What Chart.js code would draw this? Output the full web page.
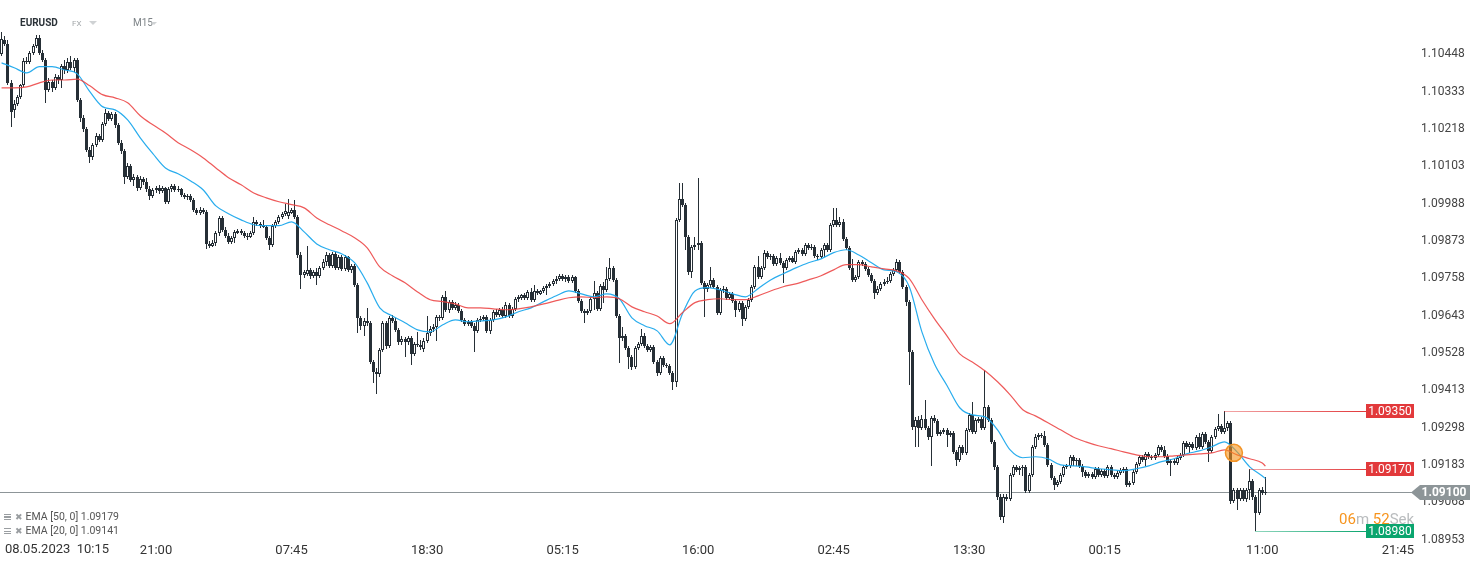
<!DOCTYPE html>
<html>
<head>
<meta charset="utf-8">
<title>EURUSD M15</title>
<script src="https://cdn.jsdelivr.net/npm/chart.js@4.4.0/dist/chart.umd.min.js"></script>
<style>
  html, body { margin: 0; padding: 0; background: #fff; }
  #wrap { position: relative; width: 1482px; height: 564px; font-family: Roboto, "Open Sans", sans-serif; overflow: hidden; }
  #chart { position: absolute; left: 0; top: 0; }
  .txt { position: absolute; white-space: nowrap; }
  .tri { position: absolute; width: 0; height: 0; border-left: 4px solid transparent; border-right: 4px solid transparent; border-top: 4px solid #cfd2d4; }
  .leg { position: absolute; left: 4px; font-size: 10.5px; line-height: 12px; color: #555; white-space: nowrap; }
  .leg i { display: inline-block; width: 7px; height: 6px; margin-right: 4px; vertical-align: 0px;
           background: repeating-linear-gradient(#9a9ea1 0 1px, transparent 1px 2.5px); }
  .leg b { font-weight: normal; color: #9a9ea1; font-family: "DejaVu Sans", sans-serif; font-size: 9px; margin-right: 3px; }
</style>
</head>
<body>
<div id="wrap">
  <canvas id="chart" width="1482" height="564"></canvas>
  <div class="txt" style="left:20px;top:17px;font-size:10px;line-height:12px;font-weight:bold;color:#2b3238">EURUSD</div>
  <div class="txt" style="left:72px;top:19px;font-size:8px;line-height:10px;color:#a3a7aa">FX</div>
  <div class="tri" style="left:89px;top:21px"></div>
  <div class="txt" style="left:133px;top:17px;font-size:10px;line-height:12px;color:#7d8387">M15</div>
  <div class="tri" style="left:151px;top:22px;border-left-width:3.5px;border-right-width:3.5px;border-top-width:3px"></div>
  <div class="leg" style="top:511px"><i></i><b>✖</b>EMA [50, 0] 1.09179</div>
  <div class="leg" style="top:525px"><i></i><b>✖</b>EMA [20, 0] 1.09141</div>
  <div class="txt" style="left:5px;top:541px;font-size:13px;line-height:16px;color:#333">08.05.2023&nbsp;&nbsp;10:15</div>
  <div class="txt" style="left:1339px;top:510px;font-size:15px;line-height:18px;color:#b9bcbe"><span style="color:#f7941d">06</span>m <span style="color:#f7941d">52</span>Sek</div>
</div>
<script>
// EURUSD M15 candles
const opens = [
1.10450,1.10493,1.10481,1.10360,1.10277,1.10296,1.10317,1.10354,1.10428,1.10425,
1.10453,1.10475,1.10499,1.10453,1.10431,1.10339,1.10363,1.10345,1.10379,1.10369,
1.10413,1.10400,1.10425,1.10407,1.10431,1.10308,1.10252,1.10218,1.10154,1.10132,
1.10170,1.10197,1.10185,1.10234,1.10268,1.10249,1.10265,1.10231,1.10176,1.10151,
1.10071,1.10105,1.10061,1.10071,1.10037,1.10064,1.10055,1.10034,1.10012,1.10030,
1.10037,1.10027,1.10037,1.09994,1.10034,1.10043,1.10030,1.10034,1.10015,1.10009,
1.10012,1.10000,1.09969,1.09960,1.09969,1.09963,1.09864,1.09858,1.09867,1.09898,
1.09944,1.09907,1.09889,1.09870,1.09883,1.09898,1.09904,1.09898,1.09889,1.09886,
1.09898,1.09932,1.09926,1.09923,1.09917,1.09883,1.09861,1.09920,1.09932,1.09948,
1.09957,1.09951,1.09960,1.09969,1.09948,1.09830,1.09769,1.09772,1.09784,1.09766,
1.09778,1.09766,1.09790,1.09809,1.09830,1.09797,1.09833,1.09790,1.09824,1.09787,
1.09824,1.09784,1.09797,1.09738,1.09636,1.09612,1.09627,1.09621,1.09500,1.09470,
1.09463,1.09537,1.09621,1.09550,1.09636,1.09627,1.09599,1.09562,1.09571,1.09562,
1.09574,1.09525,1.09556,1.09553,1.09540,1.09565,1.09590,1.09602,1.09608,1.09639,
1.09636,1.09701,1.09661,1.09686,1.09667,1.09676,1.09658,1.09630,1.09618,1.09624,
1.09612,1.09596,1.09630,1.09633,1.09639,1.09596,1.09630,1.09655,1.09645,1.09661,
1.09642,1.09676,1.09642,1.09664,1.09695,1.09698,1.09707,1.09698,1.09716,1.09692,
1.09719,1.09710,1.09719,1.09729,1.09735,1.09741,1.09750,1.09757,1.09766,1.09757,
1.09763,1.09750,1.09763,1.09719,1.09689,1.09658,1.09652,1.09658,1.09695,1.09713,
1.09664,1.09735,1.09722,1.09757,1.09790,1.09753,1.09642,1.09574,1.09580,1.09543,
1.09516,1.09485,1.09543,1.09556,1.09580,1.09550,1.09537,1.09546,1.09500,1.09466,
1.09513,1.09491,1.09488,1.09466,1.09439,1.09938,1.10003,1.09985,1.09886,1.09778,
1.09855,1.09861,1.09867,1.09744,1.09726,1.09738,1.09753,1.09732,1.09652,1.09722,
1.09726,1.09698,1.09710,1.09689,1.09661,1.09683,1.09633,1.09670,1.09692,1.09732,
1.09793,1.09763,1.09790,1.09837,1.09824,1.09827,1.09803,1.09821,1.09806,1.09790,
1.09815,1.09821,1.09809,1.09840,1.09846,1.09833,1.09861,1.09852,1.09855,1.09827,
1.09824,1.09846,1.09861,1.09846,1.09923,1.09938,1.09923,1.09932,1.09880,1.09852,
1.09790,1.09753,1.09763,1.09809,1.09803,1.09787,1.09769,1.09750,1.09713,1.09726,
1.09741,1.09747,1.09750,1.09772,1.09784,1.09809,1.09778,1.09732,1.09686,1.09531,
1.09300,1.09322,1.09297,1.09325,1.09297,1.09269,1.09328,1.09319,1.09279,1.09285,
1.09291,1.09276,1.09282,1.09223,1.09199,1.09239,1.09220,1.09291,1.09337,1.09285,
1.09319,1.09325,1.09297,1.09362,1.09322,1.09254,1.09177,1.09084,1.09023,1.09084,
1.09078,1.09152,1.09177,1.09168,1.09174,1.09177,1.09103,1.09152,1.09239,1.09269,
1.09276,1.09272,1.09245,1.09183,1.09143,1.09121,1.09131,1.09152,1.09177,1.09180,
1.09208,1.09196,1.09199,1.09180,1.09162,1.09149,1.09155,1.09146,1.09171,1.09152,
1.09165,1.09149,1.09177,1.09152,1.09146,1.09158,1.09168,1.09171,1.09121,1.09128,
1.09162,1.09186,1.09208,1.09199,1.09217,1.09208,1.09205,1.09214,1.09239,1.09229,
1.09211,1.09189,1.09196,1.09189,1.09205,1.09214,1.09251,1.09239,1.09248,1.09236,
1.09269,1.09239,1.09279,1.09254,1.09226,1.09269,1.09294,1.09303,1.09285,1.09297,
1.09313,1.09072,1.09106,1.09078,1.09106,1.09078,1.09106,1.09134,1.09084,1.09035,
1.09106,1.09097];
const highs = [
1.10518,1.10505,1.10493,1.10369,1.10308,1.10324,1.10357,1.10437,1.10440,1.10459,
1.10481,1.10508,1.10508,1.10462,1.10437,1.10375,1.10369,1.10388,1.10385,1.10419,
1.10431,1.10437,1.10444,1.10437,1.10437,1.10314,1.10262,1.10224,1.10163,1.10176,
1.10206,1.10203,1.10240,1.10280,1.10274,1.10271,1.10271,1.10237,1.10185,1.10157,
1.10114,1.10111,1.10080,1.10077,1.10074,1.10071,1.10068,1.10043,1.10037,1.10043,
1.10046,1.10043,1.10040,1.10040,1.10049,1.10049,1.10043,1.10037,1.10021,1.10018,
1.10018,1.10006,1.09975,1.09978,1.09975,1.09969,1.09873,1.09876,1.09904,1.09951,
1.09951,1.09917,1.09898,1.09889,1.09907,1.09910,1.09910,1.09904,1.09898,1.09904,
1.09948,1.09938,1.09932,1.09938,1.09923,1.09889,1.09926,1.09938,1.09954,1.09963,
1.09988,1.10003,1.09975,1.10000,1.09954,1.09840,1.09784,1.09858,1.09790,1.09784,
1.09790,1.09797,1.09818,1.09840,1.09837,1.09840,1.09840,1.09830,1.09830,1.09830,
1.09827,1.09803,1.09803,1.09744,1.09642,1.09636,1.09667,1.09627,1.09506,1.09482,
1.09543,1.09627,1.09627,1.09642,1.09645,1.09636,1.09605,1.09580,1.09577,1.09580,
1.09580,1.09562,1.09593,1.09568,1.09574,1.09642,1.09612,1.09618,1.09645,1.09645,
1.09707,1.09719,1.09692,1.09692,1.09686,1.09683,1.09664,1.09636,1.09630,1.09630,
1.09621,1.09636,1.09642,1.09645,1.09645,1.09636,1.09661,1.09664,1.09667,1.09670,
1.09686,1.09683,1.09670,1.09701,1.09707,1.09710,1.09713,1.09722,1.09729,1.09738,
1.09726,1.09722,1.09735,1.09741,1.09747,1.09757,1.09766,1.09772,1.09772,1.09769,
1.09769,1.09769,1.09766,1.09726,1.09695,1.09664,1.09664,1.09701,1.09750,1.09719,
1.09741,1.09747,1.09793,1.09821,1.09797,1.09760,1.09648,1.09608,1.09587,1.09550,
1.09522,1.09550,1.09562,1.09602,1.09590,1.09556,1.09553,1.09553,1.09506,1.09519,
1.09519,1.09497,1.09494,1.09473,1.09944,1.10052,1.10052,1.09991,1.09892,1.09861,
1.09886,1.10068,1.09873,1.09750,1.09744,1.09793,1.09760,1.09738,1.09729,1.09735,
1.09732,1.09716,1.09716,1.09695,1.09689,1.09689,1.09676,1.09698,1.09738,1.09800,
1.09827,1.09797,1.09846,1.09843,1.09833,1.09833,1.09827,1.09837,1.09812,1.09821,
1.09827,1.09827,1.09846,1.09852,1.09852,1.09867,1.09867,1.09864,1.09861,1.09833,
1.09852,1.09867,1.09867,1.09929,1.09975,1.09975,1.09948,1.09941,1.09886,1.09858,
1.09818,1.09769,1.09815,1.09815,1.09809,1.09793,1.09775,1.09757,1.09735,1.09747,
1.09757,1.09763,1.09778,1.09790,1.09818,1.09815,1.09784,1.09738,1.09692,1.09537,
1.09331,1.09334,1.09337,1.09384,1.09303,1.09334,1.09337,1.09325,1.09291,1.09297,
1.09297,1.09288,1.09288,1.09229,1.09245,1.09245,1.09297,1.09344,1.09378,1.09328,
1.09331,1.09331,1.09476,1.09368,1.09328,1.09260,1.09183,1.09094,1.09094,1.09094,
1.09158,1.09183,1.09183,1.09180,1.09183,1.09183,1.09158,1.09245,1.09279,1.09282,
1.09282,1.09288,1.09251,1.09189,1.09149,1.09137,1.09158,1.09183,1.09186,1.09214,
1.09214,1.09205,1.09205,1.09186,1.09168,1.09162,1.09162,1.09177,1.09177,1.09171,
1.09171,1.09183,1.09183,1.09158,1.09165,1.09174,1.09177,1.09177,1.09134,1.09168,
1.09193,1.09214,1.09214,1.09223,1.09223,1.09214,1.09220,1.09245,1.09245,1.09242,
1.09217,1.09202,1.09202,1.09211,1.09220,1.09257,1.09257,1.09254,1.09254,1.09276,
1.09282,1.09285,1.09285,1.09260,1.09276,1.09300,1.09340,1.09309,1.09350,1.09319,
1.09319,1.09112,1.09112,1.09112,1.09112,1.09112,1.09170,1.09140,1.09090,1.09112,
1.09115,1.09146];
const lows = [
1.10444,1.10475,1.10354,1.10224,1.10252,1.10290,1.10311,1.10347,1.10419,1.10419,
1.10447,1.10468,1.10447,1.10425,1.10299,1.10333,1.10333,1.10339,1.10357,1.10345,
1.10388,1.10391,1.10400,1.10394,1.10302,1.10240,1.10209,1.10148,1.10114,1.10123,
1.10163,1.10179,1.10179,1.10228,1.10243,1.10243,1.10221,1.10170,1.10142,1.10049,
1.10064,1.10055,1.10043,1.10027,1.10030,1.10046,1.10024,1.10000,1.10006,1.10021,
1.10018,1.10021,1.09988,1.09988,1.10024,1.10024,1.10024,1.10009,1.10003,1.10000,
1.09994,1.09963,1.09954,1.09954,1.09957,1.09849,1.09852,1.09855,1.09858,1.09889,
1.09901,1.09883,1.09864,1.09864,1.09867,1.09895,1.09892,1.09883,1.09876,1.09883,
1.09892,1.09920,1.09914,1.09914,1.09876,1.09846,1.09855,1.09914,1.09926,1.09941,
1.09951,1.09941,1.09957,1.09941,1.09821,1.09726,1.09760,1.09766,1.09757,1.09760,
1.09738,1.09760,1.09784,1.09797,1.09790,1.09790,1.09784,1.09784,1.09781,1.09781,
1.09778,1.09775,1.09732,1.09590,1.09599,1.09580,1.09612,1.09494,1.09436,1.09402,
1.09454,1.09531,1.09540,1.09543,1.09621,1.09593,1.09553,1.09553,1.09516,1.09553,
1.09491,1.09519,1.09546,1.09537,1.09531,1.09559,1.09580,1.09593,1.09565,1.09627,
1.09630,1.09655,1.09652,1.09661,1.09661,1.09652,1.09624,1.09612,1.09612,1.09605,
1.09531,1.09590,1.09624,1.09627,1.09590,1.09587,1.09624,1.09639,1.09639,1.09636,
1.09636,1.09636,1.09636,1.09658,1.09686,1.09692,1.09692,1.09692,1.09686,1.09686,
1.09707,1.09707,1.09713,1.09707,1.09729,1.09735,1.09741,1.09750,1.09750,1.09747,
1.09744,1.09744,1.09713,1.09683,1.09652,1.09621,1.09645,1.09652,1.09661,1.09658,
1.09658,1.09683,1.09716,1.09750,1.09747,1.09636,1.09497,1.09565,1.09537,1.09479,
1.09476,1.09479,1.09537,1.09550,1.09543,1.09531,1.09531,1.09494,1.09457,1.09460,
1.09485,1.09482,1.09460,1.09414,1.09424,1.09932,1.09978,1.09846,1.09769,1.09760,
1.09846,1.09846,1.09738,1.09639,1.09716,1.09729,1.09726,1.09645,1.09645,1.09713,
1.09692,1.09692,1.09683,1.09639,1.09655,1.09612,1.09627,1.09664,1.09686,1.09726,
1.09757,1.09757,1.09784,1.09818,1.09815,1.09797,1.09797,1.09800,1.09744,1.09784,
1.09809,1.09806,1.09803,1.09833,1.09827,1.09827,1.09846,1.09846,1.09821,1.09815,
1.09818,1.09824,1.09840,1.09840,1.09917,1.09917,1.09917,1.09873,1.09846,1.09784,
1.09747,1.09747,1.09757,1.09797,1.09781,1.09763,1.09744,1.09695,1.09707,1.09719,
1.09735,1.09741,1.09744,1.09766,1.09778,1.09772,1.09726,1.09673,1.09430,1.09291,
1.09239,1.09239,1.09291,1.09291,1.09260,1.09180,1.09313,1.09272,1.09272,1.09279,
1.09239,1.09269,1.09217,1.09180,1.09193,1.09214,1.09214,1.09285,1.09279,1.09279,
1.09313,1.09291,1.09291,1.09316,1.09248,1.09168,1.09075,1.09014,1.09005,1.09072,
1.09072,1.09146,1.09162,1.09152,1.09149,1.09097,1.09097,1.09146,1.09233,1.09260,
1.09266,1.09239,1.09177,1.09137,1.09106,1.09115,1.09125,1.09146,1.09171,1.09174,
1.09180,1.09180,1.09174,1.09146,1.09143,1.09143,1.09140,1.09140,1.09146,1.09146,
1.09143,1.09143,1.09146,1.09140,1.09140,1.09152,1.09158,1.09115,1.09115,1.09121,
1.09155,1.09180,1.09193,1.09180,1.09202,1.09199,1.09199,1.09208,1.09223,1.09205,
1.09183,1.09149,1.09183,1.09183,1.09199,1.09208,1.09233,1.09220,1.09229,1.09229,
1.09233,1.09233,1.09248,1.09193,1.09220,1.09263,1.09288,1.09279,1.09279,1.09288,
1.09063,1.09066,1.09045,1.09072,1.09072,1.09069,1.09075,1.09075,1.08980,1.09029,
1.09090,1.09090];
const closes = [
1.10496,1.10481,1.10360,1.10271,1.10296,1.10317,1.10354,1.10428,1.10425,1.10453,
1.10475,1.10499,1.10453,1.10431,1.10339,1.10363,1.10345,1.10379,1.10369,1.10413,
1.10400,1.10425,1.10407,1.10431,1.10308,1.10252,1.10218,1.10154,1.10132,1.10170,
1.10197,1.10185,1.10234,1.10268,1.10249,1.10265,1.10231,1.10176,1.10151,1.10071,
1.10105,1.10061,1.10071,1.10037,1.10064,1.10055,1.10034,1.10012,1.10030,1.10037,
1.10027,1.10037,1.09994,1.10034,1.10043,1.10030,1.10034,1.10015,1.10009,1.10012,
1.10000,1.09969,1.09960,1.09969,1.09963,1.09864,1.09858,1.09867,1.09898,1.09944,
1.09907,1.09889,1.09870,1.09883,1.09901,1.09904,1.09898,1.09889,1.09886,1.09898,
1.09932,1.09926,1.09920,1.09917,1.09883,1.09861,1.09920,1.09932,1.09948,1.09957,
1.09966,1.09963,1.09969,1.09948,1.09830,1.09769,1.09778,1.09784,1.09766,1.09778,
1.09766,1.09790,1.09809,1.09830,1.09797,1.09833,1.09790,1.09824,1.09787,1.09824,
1.09784,1.09797,1.09738,1.09636,1.09612,1.09627,1.09621,1.09500,1.09470,1.09463,
1.09537,1.09621,1.09550,1.09636,1.09627,1.09599,1.09562,1.09571,1.09562,1.09574,
1.09525,1.09556,1.09553,1.09546,1.09565,1.09590,1.09602,1.09608,1.09639,1.09636,
1.09701,1.09661,1.09686,1.09667,1.09676,1.09658,1.09630,1.09618,1.09624,1.09612,
1.09596,1.09630,1.09633,1.09639,1.09596,1.09630,1.09655,1.09645,1.09661,1.09642,
1.09676,1.09642,1.09664,1.09695,1.09701,1.09707,1.09698,1.09716,1.09692,1.09719,
1.09713,1.09719,1.09729,1.09735,1.09741,1.09750,1.09757,1.09766,1.09757,1.09763,
1.09750,1.09763,1.09719,1.09689,1.09658,1.09652,1.09658,1.09695,1.09713,1.09664,
1.09735,1.09722,1.09757,1.09790,1.09753,1.09642,1.09574,1.09580,1.09543,1.09516,
1.09485,1.09543,1.09556,1.09580,1.09550,1.09537,1.09546,1.09500,1.09466,1.09513,
1.09491,1.09488,1.09466,1.09439,1.09938,1.10003,1.09985,1.09886,1.09778,1.09855,
1.09861,1.09867,1.09744,1.09726,1.09738,1.09753,1.09732,1.09652,1.09722,1.09726,
1.09698,1.09710,1.09689,1.09661,1.09683,1.09633,1.09670,1.09692,1.09732,1.09793,
1.09763,1.09790,1.09837,1.09824,1.09827,1.09803,1.09821,1.09806,1.09790,1.09815,
1.09821,1.09809,1.09840,1.09846,1.09833,1.09861,1.09852,1.09855,1.09827,1.09824,
1.09846,1.09861,1.09846,1.09923,1.09938,1.09923,1.09932,1.09880,1.09852,1.09790,
1.09753,1.09763,1.09809,1.09803,1.09787,1.09769,1.09750,1.09713,1.09726,1.09741,
1.09747,1.09750,1.09772,1.09784,1.09809,1.09778,1.09732,1.09686,1.09531,1.09300,
1.09322,1.09297,1.09325,1.09297,1.09269,1.09328,1.09319,1.09279,1.09285,1.09291,
1.09276,1.09282,1.09223,1.09199,1.09239,1.09220,1.09291,1.09337,1.09285,1.09322,
1.09325,1.09297,1.09362,1.09322,1.09254,1.09177,1.09084,1.09023,1.09084,1.09078,
1.09152,1.09177,1.09168,1.09174,1.09177,1.09103,1.09152,1.09239,1.09269,1.09276,
1.09272,1.09245,1.09183,1.09143,1.09121,1.09131,1.09152,1.09177,1.09180,1.09208,
1.09196,1.09199,1.09180,1.09162,1.09149,1.09155,1.09146,1.09171,1.09152,1.09165,
1.09149,1.09177,1.09152,1.09146,1.09158,1.09168,1.09171,1.09121,1.09128,1.09162,
1.09186,1.09208,1.09199,1.09217,1.09208,1.09205,1.09214,1.09239,1.09229,1.09211,
1.09189,1.09196,1.09189,1.09205,1.09214,1.09251,1.09239,1.09248,1.09236,1.09269,
1.09239,1.09279,1.09254,1.09226,1.09269,1.09294,1.09303,1.09285,1.09297,1.09313,
1.09072,1.09106,1.09078,1.09106,1.09078,1.09106,1.09134,1.09084,1.09035,1.09106,
1.09097,1.09100];

// EMA values read every 4th candle (plus the last one)
const ema20 = [
1.10422,1.10407,1.10391,1.10410,1.10410,1.10400,1.10388,1.10333,1.10287,1.10277,
1.10246,1.10191,1.10142,1.10098,1.10080,1.10058,1.10030,1.09981,1.09957,1.09938,
1.09923,1.09920,1.09920,1.09932,1.09901,1.09864,1.09846,1.09833,1.09806,1.09744,
1.09667,1.09642,1.09621,1.09599,1.09593,1.09615,1.09630,1.09624,1.09627,1.09630,
1.09639,1.09655,1.09667,1.09686,1.09704,1.09719,1.09710,1.09701,1.09710,1.09695,
1.09636,1.09612,1.09596,1.09553,1.09648,1.09719,1.09729,1.09722,1.09710,1.09701,
1.09726,1.09753,1.09772,1.09790,1.09806,1.09818,1.09837,1.09846,1.09830,1.09806,
1.09784,1.09778,1.09732,1.09593,1.09494,1.09427,1.09359,1.09337,1.09331,1.09291,
1.09229,1.09205,1.09208,1.09202,1.09183,1.09180,1.09177,1.09171,1.09168,1.09165,
1.09171,1.09180,1.09193,1.09202,1.09217,1.09226,1.09239,1.09254,1.09223,1.09177,
1.09149,1.09141];
const ema50 = [
1.10345,1.10345,1.10348,1.10360,1.10369,1.10369,1.10372,1.10351,1.10324,1.10314,
1.10299,1.10259,1.10231,1.10206,1.10176,1.10154,1.10129,1.10098,1.10068,1.10046,
1.10021,1.10006,1.09994,1.09985,1.09975,1.09944,1.09923,1.09904,1.09883,1.09852,
1.09793,1.09766,1.09744,1.09716,1.09692,1.09686,1.09679,1.09667,1.09667,1.09664,
1.09661,1.09664,1.09670,1.09679,1.09689,1.09698,1.09701,1.09698,1.09701,1.09695,
1.09670,1.09655,1.09642,1.09618,1.09652,1.09683,1.09692,1.09695,1.09692,1.09692,
1.09704,1.09719,1.09732,1.09741,1.09753,1.09766,1.09784,1.09800,1.09800,1.09793,
1.09787,1.09781,1.09757,1.09692,1.09633,1.09580,1.09525,1.09500,1.09473,1.09439,
1.09399,1.09353,1.09334,1.09313,1.09291,1.09269,1.09254,1.09242,1.09233,1.09223,
1.09214,1.09208,1.09208,1.09211,1.09214,1.09217,1.09220,1.09229,1.09214,1.09202,
1.09189,1.09179];

const yTicks = [1.10448, 1.10333, 1.10218, 1.10103, 1.09988, 1.09873, 1.09758,
                1.09643, 1.09528, 1.09413, 1.09298, 1.09183, 1.09068, 1.08953];
const tickAt = [49, 92, 135, 178, 221, 264, 307, 350, 400, 443];
const tickTimes = ['21:00', '07:45', '18:30', '05:15', '16:00', '02:45', '13:30', '00:15', '11:00', '21:45'];
const levelPrices = [1.09350, 1.09170, 1.08980];
const levelFrom = [388, 396, 398];
const marker = [391, 1.09220];

const slotCount = 448;          // candles + empty room on the right
const yMin = 1.089515, yMax = 1.106156;
const DARK = '#262f36';
const levelColors = ['226,57,59', '226,57,59', '10,165,110'];

const slots = Array.from({ length: slotCount }, (_, i) => i);
const wicks = highs.map((h, i) => [lows[i], h]);
const bodies = opens.map((o, i) => [o, closes[i]]);
const bodyFill = opens.map((o, i) => closes[i] >= o ? '#ffffff' : DARK);
const emaAt = ema20.map((_, k) => Math.min(k * 4, opens.length - 1));

Chart.defaults.font.family = 'Roboto';

// snap candle bars to whole pixels so they stay crisp
const snap = {
  id: 'snap',
  afterDatasetsUpdate(chart) {
    chart.data.datasets.forEach((ds, di) => {
      if (ds.type === 'line') return;
      chart.getDatasetMeta(di).data.forEach(el => {
        el.x = Math.floor(el.x) + 0.5;
        el.y = Math.round(el.y);
        el.base = Math.round(el.base);
        if (Math.abs(el.base - el.y) < 1) el.base = el.y + 1;
      });
    });
  }
};

const overlay = {
  id: 'overlay',
  beforeDatasetsDraw(chart) {
    const { ctx, chartArea, scales: { y } } = chart;
    const py = Math.round(y.getPixelForValue(closes[closes.length - 1])) + 0.5;
    ctx.save();
    ctx.strokeStyle = '#8d9598';
    ctx.lineWidth = 1;
    ctx.beginPath();
    ctx.moveTo(0, py);
    ctx.lineTo(chartArea.right, py);
    ctx.stroke();
    ctx.restore();
  },
  afterDraw(chart) {
    const { ctx, chartArea, scales: { x, y } } = chart;
    const boxL = chartArea.right - 46;
    ctx.save();
    ctx.font = '12px Roboto';
    ctx.textAlign = 'center';
    ctx.textBaseline = 'middle';
    levelPrices.forEach((p, k) => {
      const py = Math.round(y.getPixelForValue(p)) + 0.5;
      const x0 = Math.floor(x.getPixelForValue(levelFrom[k]));
      const grad = ctx.createLinearGradient(x0, 0, boxL, 0);
      grad.addColorStop(0, 'rgba(' + levelColors[k] + ',0.45)');
      grad.addColorStop(1, 'rgba(' + levelColors[k] + ',1)');
      ctx.strokeStyle = grad;
      ctx.lineWidth = 1;
      ctx.beginPath();
      ctx.moveTo(x0, py);
      ctx.lineTo(boxL, py);
      ctx.stroke();
      ctx.fillStyle = 'rgb(' + levelColors[k] + ')';
      ctx.fillRect(boxL, py - 7.5, 48, 14);
      ctx.fillStyle = '#fff';
      ctx.fillText(p.toFixed(5), boxL + 24, py);
    });
    // current price tag
    const last = closes[closes.length - 1];
    const cy = Math.round(y.getPixelForValue(last)) + 0.5;
    const r = chartArea.right;
    ctx.fillStyle = '#8d9598';
    ctx.beginPath();
    ctx.moveTo(r - 1, cy);
    ctx.lineTo(r + 8, cy - 7.5);
    ctx.lineTo(r + 58, cy - 7.5);
    ctx.lineTo(r + 58, cy + 7.5);
    ctx.lineTo(r + 8, cy + 7.5);
    ctx.closePath();
    ctx.fill();
    ctx.fillStyle = '#fff';
    ctx.font = 'bold 12px Roboto';
    ctx.fillText(last.toFixed(5), r + 32, cy + 0.5);
    ctx.restore();
  }
};

new Chart(document.getElementById('chart'), {
  type: 'bar',
  data: {
    labels: slots,
    datasets: [
      {
        type: 'line', label: 'marker', data: [{ x: marker[0], y: marker[1] }],
        showLine: false, pointRadius: 8.5, pointBorderWidth: 1.5,
        pointBackgroundColor: 'rgba(247,148,29,0.6)', pointBorderColor: '#f39325', order: -1
      },
      {
        type: 'line', label: 'EMA [50, 0]', data: ema50.map((v, k) => ({ x: emaAt[k], y: v })),
        borderColor: 'rgba(236,72,72,0.9)', borderWidth: 1.2, pointRadius: 0,
        cubicInterpolationMode: 'monotone', order: 0
      },
      {
        type: 'line', label: 'EMA [20, 0]', data: ema20.map((v, k) => ({ x: emaAt[k], y: v })),
        borderColor: 'rgba(28,168,236,0.95)', borderWidth: 1.2, pointRadius: 0,
        cubicInterpolationMode: 'monotone', order: 0
      },
      {
        label: 'body', data: bodies, backgroundColor: bodyFill, borderColor: DARK,
        borderWidth: 1, borderSkipped: false, barThickness: 3, minBarLength: 1,
        inflateAmount: 0, grouped: false, order: 1
      },
      {
        label: 'wick', data: wicks, backgroundColor: DARK, borderWidth: 0,
        barThickness: 1, inflateAmount: 0, grouped: false, order: 2
      }
    ]
  },
  options: {
    responsive: false,
    animation: false,
    layout: { padding: 0, autoPadding: false },
    plugins: { legend: { display: false }, tooltip: { enabled: false } },
    scales: {
      x: {
        offset: true,
        grid: { display: false, drawTicks: false },
        border: { display: false },
        ticks: {
          autoSkip: false, maxRotation: 0, padding: 3, color: '#333',
          font: { size: 13 }, callback: (v, k) => tickTimes[k]
        },
        afterBuildTicks: s => { s.ticks = tickAt.map(v => ({ value: v })); },
        afterFit: s => { s.height = 24; s.paddingLeft = 0; s.paddingRight = 0; }
      },
      y: {
        position: 'right', min: yMin, max: yMax,
        grid: { display: false, drawTicks: false },
        border: { display: false },
        ticks: { padding: 9, color: '#444', font: { size: 12 }, callback: v => v.toFixed(5) },
        afterBuildTicks: s => { s.ticks = yTicks.map(v => ({ value: v })); },
        afterFit: s => { s.width = 70; s.paddingTop = 0; s.paddingBottom = 0; }
      }
    }
  },
  plugins: [snap, overlay]
});
</script>
</body>
</html>
